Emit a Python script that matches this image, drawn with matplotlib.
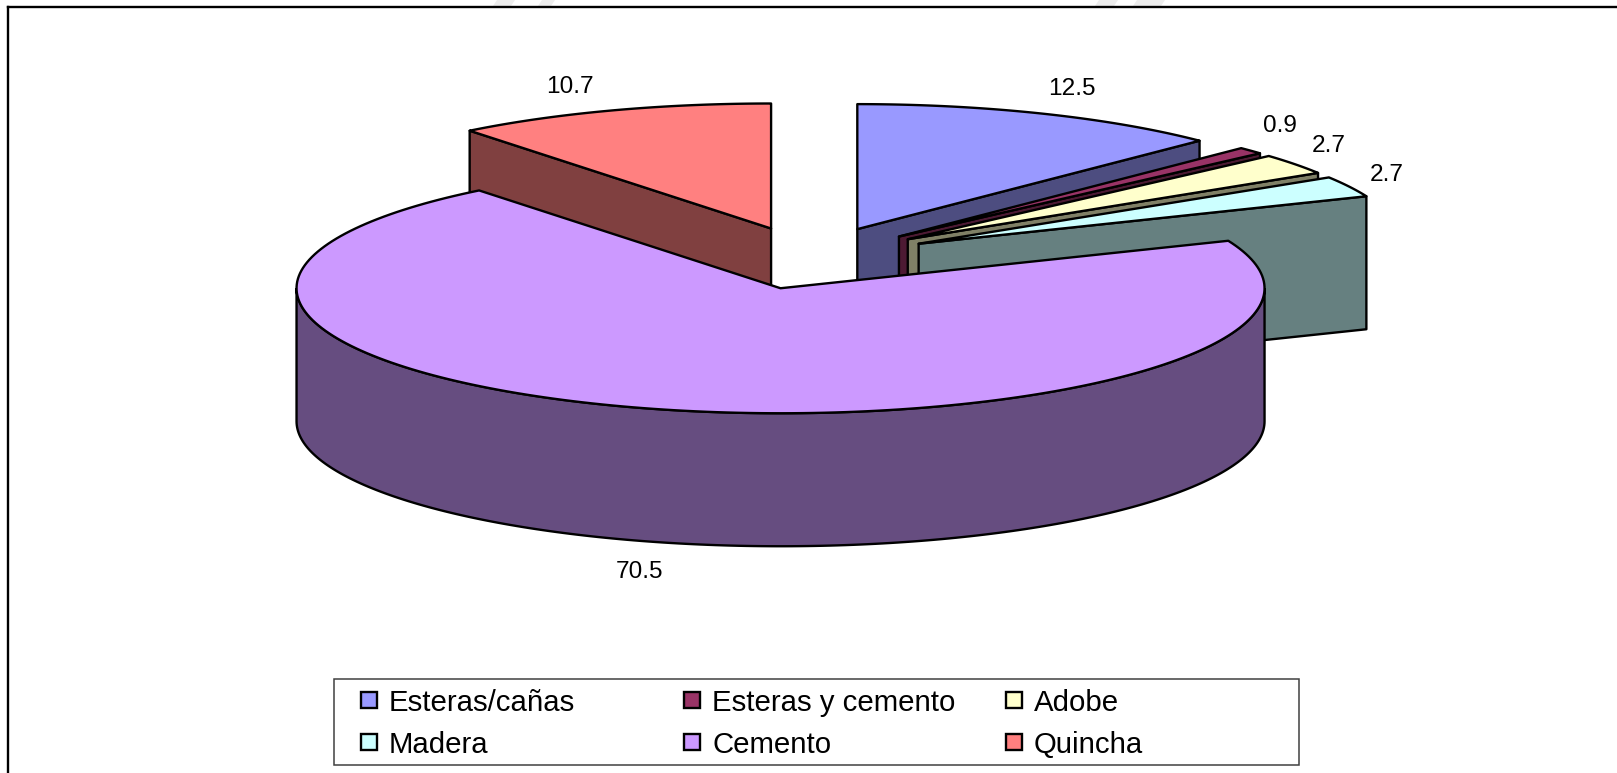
import numpy as np
import matplotlib
matplotlib.use('Agg')
import matplotlib.pyplot as plt
from matplotlib.patches import Polygon, Rectangle

plt.rcParams['font.family'] = ['Liberation Sans', 'DejaVu Sans']

# data
categories = ['Esteras/cañas', 'Esteras y cemento', 'Adobe', 'Madera', 'Cemento', 'Quincha']
values = [12.5, 0.9, 2.7, 2.7, 70.5, 10.7]
top_colors = ['#9999FF', '#993366', '#FFFFCC', '#CCFFFF', '#CC99FF', '#FF8080']
side_colors = ['#4D4D80', '#4D1A33', '#808066', '#668080', '#664D80', '#804040']

# layout, in pixels of the picture
cx, cy = 811, 258
rx, ry = 484, 125
depth = 133
explode = 0.25
label_xy = [(1072, 89), (1280, 126), (1329, 146), (1387, 175), (639, 572), (570, 87)]
draw_order = [5, 0, 1, 2, 3, 4]
# bits of a scanned watermark, cut off by the top of the page
smudges = [(493, 515), (538, 555), (1095, 1118), (1133, 1165)]

fig = plt.figure(figsize=(16.17, 7.73), dpi=100)
ax = fig.add_axes([0, 0, 1, 1])
ax.set_xlim(0, 1617)
ax.set_ylim(773, 0)
ax.axis('off')

for x0, x1 in smudges:
    ax.add_patch(Polygon([(x0 + 4, 0), (x1, 0), (x1 - 4, 6), (x0, 6)], fc='#EDEDED', ec='none'))


def rim(tip, a0, a1, n=200):
    # points on the outer edge, angles clockwise from north
    a = np.radians(np.linspace(a0, a1, n))
    return np.column_stack([tip[0] + rx * np.sin(a), tip[1] - ry * np.cos(a)])


def draw_slice(start, end, top, side):
    mid = np.radians((start + end) / 2)
    tip = np.array([cx + explode * rx * np.sin(mid), cy - explode * ry * np.cos(mid)])
    down = np.array([0, depth])

    # cut faces that look towards the viewer
    for ang, show in [(end, end < 180), (start, start > 180)]:
        if show:
            p = rim(tip, ang, ang, 1)[0]
            ax.add_patch(Polygon([tip, p, p + down, tip + down], fc=side, ec='black', lw=1.7, joinstyle='round'))

    # curved wall, front half only
    a0, a1 = max(start, 90), min(end, 270)
    if a0 < a1:
        edge = rim(tip, a0, a1)
        ax.add_patch(Polygon(np.vstack([edge, (edge + down)[::-1]]), fc=side, ec='black', lw=1.7))

    pts = np.vstack([tip, rim(tip, start, end)])
    ax.add_patch(Polygon(pts, fc=top, ec='black', lw=1.7, joinstyle='round'))


edges = np.cumsum([0] + values) / sum(values) * 360
for i in draw_order:
    draw_slice(edges[i], edges[i + 1], top_colors[i], side_colors[i])

for v, (x, y) in zip(values, label_xy):
    ax.text(x, y, f'{v:.1f}', ha='center', va='center', fontsize=17.6, color='black')

# outer frame, it runs off the right and bottom of the picture
ax.plot([8, 8], [773, 7], color='black', lw=1.7, solid_capstyle='projecting')
ax.plot([8, 1617], [7, 7], color='black', lw=1.7)

# legend box
ax.add_patch(Rectangle((334, 679), 965, 86, fc='white', ec='#404040', lw=1.1))
col_x = [361, 684, 1006]
row_y = [700, 742]
for i, name in enumerate(categories):
    x = col_x[i % 3]
    y = row_y[i // 3]
    ax.add_patch(Rectangle((x, y - 8), 16, 16, fc=top_colors[i], ec='black', lw=1.7))
    ax.text(x + 28, y + 3, name, ha='left', va='center', fontsize=21.2, color='black')

fig.savefig('out.png', dpi=100)
